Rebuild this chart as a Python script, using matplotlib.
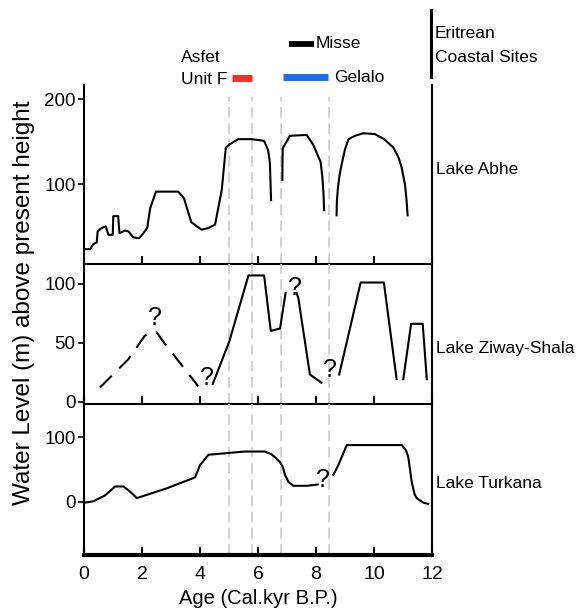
import matplotlib
matplotlib.use("Agg")
import matplotlib.pyplot as plt

plt.rcParams['font.family'] = ['Liberation Sans', 'DejaVu Sans']

W, H = 578, 609
DPI = 100

# ---------------- data ----------------
# Lake Abhe (three segments)
abhe_x1 = [0.03, 0.21, 0.32, 0.44, 0.47, 0.61, 0.75, 0.84, 0.99, 1.01, 1.18, 1.22, 1.41, 1.53,
           1.70, 1.90, 2.05, 2.18, 2.28, 2.48, 3.25, 3.45, 3.58, 3.70, 3.89, 4.06, 4.29, 4.52, 4.62,
           4.75, 4.89, 5.03, 5.32, 5.78, 6.21, 6.35, 6.41, 6.45]
abhe_y1 = [23, 23, 29, 31, 44, 48, 50, 40, 40, 62, 62, 42, 45, 44,
           37, 36, 42, 48, 71, 91, 91, 83, 68, 55, 50, 46, 48, 52, 70,
           93, 143, 147, 153, 153, 151, 140, 125, 81]
abhe_x2 = [6.84, 6.85, 7.10, 7.68, 7.91, 8.16, 8.22, 8.26, 8.28]
abhe_y2 = [105, 142, 157, 158, 146, 126, 108, 88, 69]
abhe_x3 = [8.71, 8.72, 8.76, 8.82, 8.89, 9.00, 9.12, 9.35, 9.63, 10.03, 10.35, 10.67, 10.85,
           10.95, 11.07, 11.12, 11.16]
abhe_y3 = [63, 80, 97, 112, 124, 141, 153, 157, 160, 159, 153, 143, 131,
           120, 99, 82, 63]

# Lake Ziway-Shala
ziway_dash_x = [0.55, 1.53, 2.10, 2.33, 2.50, 2.73, 3.94]
ziway_dash_y = [12, 36, 56, 59, 59, 51, 13]
ziway_xa = [4.44, 5.01, 5.67, 6.21, 6.44, 6.76, 6.95]
ziway_ya = [15, 51, 107, 107, 60, 62, 92]
ziway_xb = [7.33, 7.39, 7.79, 8.19]
ziway_yb = [92, 88, 23, 16]
ziway_xc = [8.80, 9.54, 10.34, 10.78]
ziway_yc = [23, 101, 101, 19]
ziway_xd = [11.01, 11.28, 11.68, 11.82]
ziway_yd = [19, 66, 66, 19]
ziway_q_x = [2.45, 4.23, 7.28, 8.48]
ziway_q_y = [71, 20, 96, 27]

# Lake Turkana
turk_x1 = [0.03, 0.32, 0.72, 0.90, 1.07, 1.36, 1.59, 1.82, 2.85, 3.31, 3.83, 3.92, 4.00, 4.29, 5.03,
           5.55, 6.24, 6.45, 6.59, 6.75, 6.85, 6.93, 7.05, 7.22, 7.68, 8.06]
turk_y1 = [-1, 1, 10, 17, 24, 24, 16, 6, 21, 29, 38, 48, 57, 73, 76,
           78, 78, 74, 69, 62, 55, 42, 31, 25, 25, 27]
turk_x2 = [8.60, 8.77, 9.06, 10.96, 11.10, 11.18, 11.30, 11.40, 11.47, 11.70, 11.87]
turk_y2 = [42, 57, 88, 88, 80, 70, 31, 12, 6, -1, -3]
turk_q_x = [8.25]
turk_q_y = [34]

# dashed reference ages
ref_ages = [5.0, 5.8, 6.8, 8.45]

# site bars (age ranges)
asfet_range = (5.09, 5.80)
misse_range = (7.07, 7.94)
gelalo_range = (6.85, 8.42)

x_ticks = [0, 2, 4, 6, 8, 10, 12]
lake_names = ["Lake Abhe", "Lake Ziway-Shala", "Lake Turkana"]

# ---------------- layout ----------------
fig = plt.figure(figsize=(W / DPI, H / DPI), dpi=DPI)


def ax_at(top, bottom, left=84, right=432):
    return fig.add_axes([left / W, 1 - bottom / H, (right - left) / W, (bottom - top) / H])


ax1 = ax_at(85, 264)
ax2 = ax_at(264, 404)
ax3 = ax_at(404, 555)

LW = 1.5
lc = 'black'

# panel 1
ax1.plot(abhe_x1, abhe_y1, color=lc, lw=LW)
ax1.plot(abhe_x2, abhe_y2, color=lc, lw=LW)
ax1.plot(abhe_x3, abhe_y3, color=lc, lw=LW)
ax1.set_ylim(5.5, 217)
ax1.set_yticks([100, 200])

# panel 2
ax2.plot(ziway_dash_x, ziway_dash_y, color=lc, lw=LW, dashes=(8, 5))
for xs, ys in [(ziway_xa, ziway_ya), (ziway_xb, ziway_yb), (ziway_xc, ziway_yc), (ziway_xd, ziway_yd)]:
    ax2.plot(xs, ys, color=lc, lw=LW)
for qx, qy in zip(ziway_q_x, ziway_q_y):
    ax2.text(qx, qy, "?", ha='center', va='center', fontsize=18)
ax2.set_ylim(-2, 116.7)
ax2.set_yticks([0, 50, 100])

# panel 3
ax3.plot(turk_x1, turk_y1, color=lc, lw=LW)
ax3.plot(turk_x2, turk_y2, color=lc, lw=LW)
for qx, qy in zip(turk_q_x, turk_q_y):
    ax3.text(qx, qy, "?", ha='center', va='center', fontsize=18)
ax3.set_ylim(-82, 151.5)
ax3.set_yticks([0, 100])

for ax in (ax1, ax2, ax3):
    ax.set_xlim(0, 12)
    ax.set_xticks(x_ticks)
    ax.tick_params(axis='x', direction='in', length=6, width=1.5, labelsize=14, pad=8)
    ax.tick_params(axis='y', direction='out', length=4, width=1.2, labelsize=13.5, pad=2)
    ax.spines['top'].set_visible(False)
    for s in ('left', 'right', 'bottom'):
        ax.spines[s].set_linewidth(1.5)
    ax.patch.set_alpha(0)

ax1.tick_params(axis='x', labelbottom=False)
ax2.tick_params(axis='x', labelbottom=False)
ax3.spines['bottom'].set_linewidth(3)
ax3.set_xlabel("Age (Cal.kyr B.P.)", fontsize=14.5, labelpad=4)

# dashed vertical reference lines
for ax, ymax in ((ax1, (264 - 97) / (264 - 85)), (ax2, 1), (ax3, 1)):
    for a in ref_ages:
        ax.axvline(a, ymin=0, ymax=ymax, color='#cfcfcf', lw=1.3, dashes=(6, 3), zorder=0)

# y label
fig.text(24 / W, 1 - 303 / H, "Water Level (m) above present height", rotation=90,
         ha='center', va='center', fontsize=17.5)

# lake labels
for name, py in zip(lake_names, [170, 349, 483]):
    fig.text(436 / W, 1 - py / H, name, ha='left', va='center', fontsize=12.5)

# site bars above the top panel
def px2y(py):
    # convert a figure pixel row into panel-1 data coordinates
    lo, hi = ax1.get_ylim()
    return lo + (264 - py) / (264 - 85) * (hi - lo)

ax1.plot(asfet_range, [px2y(78)] * 2, color='#ee3322', lw=5, solid_capstyle='butt', clip_on=False)
ax1.plot(misse_range, [px2y(43.5)] * 2, color='black', lw=4.2, solid_capstyle='butt', clip_on=False)
ax1.plot(gelalo_range, [px2y(77)] * 2, color='#1a6fee', lw=5, solid_capstyle='butt', clip_on=False)

fig.text(181 / W, 1 - 58 / H, "Asfet", ha='left', va='center', fontsize=12.5)
fig.text(181 / W, 1 - 79 / H, "Unit F", ha='left', va='center', fontsize=12.5)
fig.text(316 / W, 1 - 43.5 / H, "Misse", ha='left', va='center', fontsize=12.5)
fig.text(334 / W, 1 - 77 / H, "Gelalo", ha='left', va='center', fontsize=12.5)
fig.text(435 / W, 1 - 34 / H, "Eritrean", ha='left', va='center', fontsize=12.5)
fig.text(435 / W, 1 - 57 / H, "Coastal Sites", ha='left', va='center', fontsize=12.5)

# vertical bracket line for Eritrean sites
fig.add_artist(plt.Line2D([431 / W, 431 / W], [1 - 10 / H, 1 - 77 / H], color='black', lw=2.2))

fig.savefig("out.png", dpi=DPI)
